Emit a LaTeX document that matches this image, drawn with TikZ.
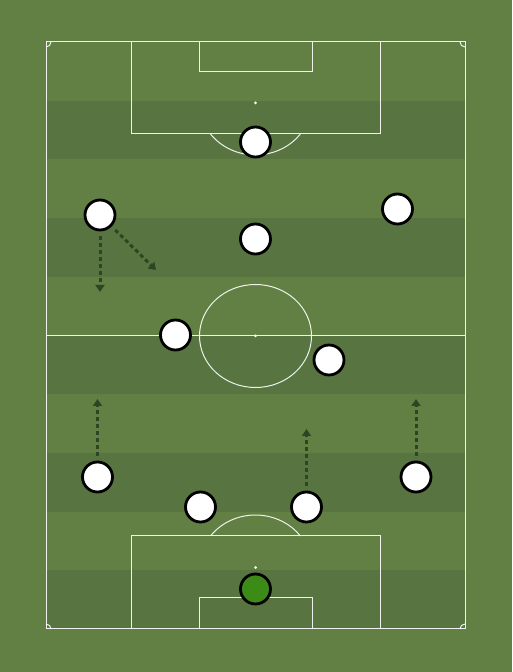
\documentclass[tikz,border=0pt]{standalone}
\usepackage{tikz}
\usetikzlibrary{calc, positioning, arrows.meta, shadows}

\definecolor{grassLight}{HTML}{628043}
\definecolor{grassDark}{HTML}{587440}
\definecolor{runGreen}{HTML}{2D4523}
\definecolor{keeperGreen}{HTML}{3D8B17}

\begin{document}
\begin{tikzpicture}[
    x=1pt, y=1pt,
    >=Stealth,
    pitchline/.style={draw=white, draw opacity=0.9, line width=1pt},
    player/.style={circle, draw=black, line width=2.8pt, fill=white,
        minimum size=30pt, inner sep=0pt,
        drop shadow={shadow xshift=0.8pt, shadow yshift=-0.8pt, opacity=0.35}},
    keeper/.style={player, fill=keeperGreen},
    run/.style={draw=runGreen, line width=3pt, dash pattern=on 4pt off 3pt,
        -{Triangle[length=7pt, width=9pt]}, shorten <=5pt}
]

    % Background and stripes
    \fill[grassLight] (0, 0) rectangle (512, 672);
    \useasboundingbox (0, 0) rectangle (512, 672);
    \foreach \i in {1, 3, 5, 7, 9}
        \fill[grassDark] (46, {630 - 58.7*\i}) rectangle (465, {630 - 58.7*(\i+1)});

    % Outer lines and halfway line
    \draw[pitchline] (46, 43) rectangle (465, 630);
    \draw[pitchline] (46, 336) -- (465, 336);

    % Centre circle and spot
    \draw[pitchline] (255.5, 336) ellipse [x radius=56, y radius=51.5];
    \fill[white] (255.5, 336) circle (1.5);

    % Top penalty area
    \draw[pitchline] (131, 630) -- (131, 538) -- (380, 538) -- (380, 630);
    \draw[pitchline] (199, 630) -- (199, 600) -- (312, 600) -- (312, 630);
    \fill[white] (255.5, 569) circle (1.5);
    \draw[pitchline] (210.5, 538) arc [start angle=-143.4, end angle=-36.6, x radius=56, y radius=52];

    % Bottom penalty area
    \draw[pitchline] (131, 43) -- (131, 136) -- (380, 136) -- (380, 43);
    \draw[pitchline] (199, 43) -- (199, 74) -- (312, 74) -- (312, 43);
    \fill[white] (255.5, 104.5) circle (1.5);
    \draw[pitchline] (210.5, 136) arc [start angle=143.4, end angle=36.6, x radius=56, y radius=52];

    % Corner arcs
    \draw[pitchline] (51, 630) arc (0:-90:5);
    \draw[pitchline] (460, 630) arc (180:270:5);
    \draw[pitchline] (51, 43) arc (0:90:5);
    \draw[pitchline] (460, 43) arc (180:90:5);

    % Players
    \node[player] (st) at (255.5, 530) {};
    \node[player] (lw) at (100, 457) {};
    \node[player] (am) at (255.5, 433) {};
    \node[player] (rw) at (397.5, 463) {};
    \node[player] (lcm) at (175.5, 337) {};
    \node[player] (rcm) at (329, 312) {};
    \node[player] (lb) at (97.5, 195) {};
    \node[player] (lcb) at (200.5, 165) {};
    \node[player] (rcb) at (306.5, 165) {};
    \node[player] (rb) at (416, 195) {};
    \node[keeper] (gk) at (255.5, 83) {};

    % Runs
    \coordinate (lwDown) at (100, 380);
    \coordinate (lwIn) at (156, 402);
    \coordinate (lbUp) at (97.5, 273);
    \coordinate (rcbUp) at (306.5, 243);
    \coordinate (rbUp) at (416, 273);

    \draw[run] (lw) -- (lwDown);
    \draw[run] (lw) -- (lwIn);
    \draw[run] (lb) -- (lbUp);
    \draw[run] (rcb) -- (rcbUp);
    \draw[run] (rb) -- (rbUp);

\end{tikzpicture}
\end{document}
